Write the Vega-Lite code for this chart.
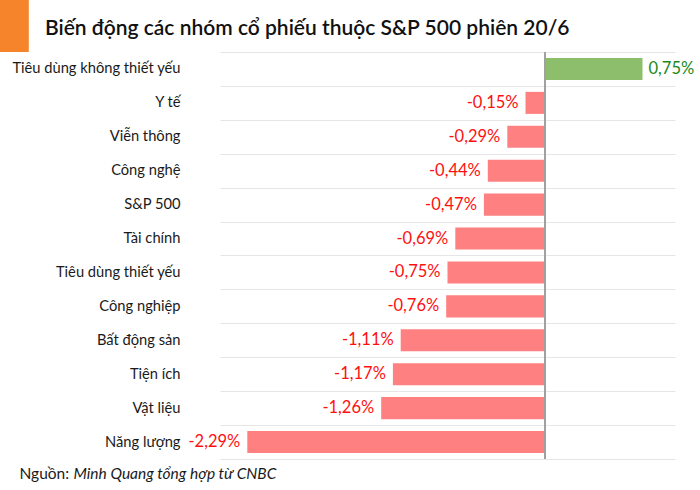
{
  "$schema": "https://vega.github.io/schema/vega-lite/v6.json",
  "width": 455,
  "height": 407,
  "autosize": "none",
  "padding": {"left": 220, "top": 52, "right": 25, "bottom": 31},
  "config": {
    "view": {"stroke": null},
    "font": "Lato",
    "locale": {"number": {"decimal": ",", "thousands": ".", "grouping": [3], "currency": ["", ""], "minus": "-"}}
  },
  "title": {
    "text": "Biến động các nhóm cổ phiếu thuộc S&P 500 phiên 20/6",
    "anchor": "start",
    "frame": "group",
    "dx": -175,
    "offset": -43,
    "font": "Lato",
    "fontSize": 21,
    "fontWeight": 600,
    "color": "#111111"
  },
  "data": {
    "values": [
      {"nhom": "Tiêu dùng không thiết yếu", "value": 0.0075},
      {"nhom": "Y tế", "value": -0.0015},
      {"nhom": "Viễn thông", "value": -0.0029},
      {"nhom": "Công nghệ", "value": -0.0044},
      {"nhom": "S&P 500", "value": -0.0047},
      {"nhom": "Tài chính", "value": -0.0069},
      {"nhom": "Tiêu dùng thiết yếu", "value": -0.0075},
      {"nhom": "Công nghiệp", "value": -0.0076},
      {"nhom": "Bất động sản", "value": -0.0111},
      {"nhom": "Tiện ích", "value": -0.0117},
      {"nhom": "Vật liệu", "value": -0.0126},
      {"nhom": "Năng lượng", "value": -0.0229}
    ]
  },
  "resolve": {"axis": {"x": "independent"}},
  "layer": [
    {
      "mark": {"type": "bar", "height": {"band": 0.65}},
      "encoding": {
        "y": {
          "field": "nhom", "type": "nominal", "sort": null,
          "scale": {"paddingInner": 0, "paddingOuter": 0},
          "axis": {
            "tickBand": "extent", "grid": true, "gridColor": "#e6e6e6", "gridWidth": 1,
            "domain": false, "ticks": false, "labelPadding": 40,
            "labelFont": "Lato", "labelFontSize": 14.7, "labelColor": "#1a1a1a",
            "title": "█", "titleAngle": 0, "titleColor": "#F5842A",
            "titleFont": "DejaVu Sans", "titleFontSize": 52, "titleFontWeight": "normal",
            "titleX": -232, "titleY": -55, "titleBaseline": "top", "titleAlign": "left"
          }
        },
        "x": {
          "field": "value", "type": "quantitative",
          "scale": {"domain": [-0.025, 0.01], "nice": false, "zero": false},
          "axis": {
            "orient": "bottom",
            "domain": false, "ticks": false, "labels": false, "grid": false,
            "title": "Nguồn:", "titleX": -201, "titleY": 19, "titleAlign": "left", "titleBaseline": "alphabetic",
            "titleFont": "Lato", "titleFontSize": 15.5, "titleFontWeight": "normal", "titleColor": "#1a1a1a"
          }
        },
        "color": {
          "condition": {"test": "datum.value > 0", "value": "#8CBE6C"},
          "value": "#FF8080"
        }
      }
    },
    {
      "mark": {"type": "rule", "color": "#a0a0a0", "strokeWidth": 1},
      "encoding": {
        "x": {"datum": 0, "type": "quantitative", "axis": null}
      }
    },
    {
      "transform": [{"filter": "datum.value < 0"}],
      "mark": {"type": "text", "align": "right", "dx": -7, "baseline": "middle", "font": "Lato", "fontSize": 16.5, "color": "#FF1010"},
      "encoding": {
        "y": {"field": "nhom", "type": "nominal", "sort": null},
        "x": {
          "field": "value", "type": "quantitative",
          "axis": {
            "orient": "bottom",
            "domain": false, "ticks": false, "labels": false, "grid": false,
            "title": "Minh Quang tổng hợp từ CNBC", "titleX": -147, "titleY": 19, "titleAlign": "left", "titleBaseline": "alphabetic",
            "titleFont": "Lato", "titleFontSize": 15.5, "titleFontWeight": "normal", "titleFontStyle": "italic", "titleColor": "#1a1a1a"
          }
        },
        "text": {"field": "value", "type": "quantitative", "format": ".2%"}
      }
    },
    {
      "transform": [{"filter": "datum.value >= 0"}],
      "mark": {"type": "text", "align": "left", "dx": 6, "baseline": "middle", "font": "Lato", "fontSize": 16.5, "color": "#1A8A1A"},
      "encoding": {
        "y": {"field": "nhom", "type": "nominal", "sort": null},
        "x": {"field": "value", "type": "quantitative", "axis": null},
        "text": {"field": "value", "type": "quantitative", "format": ".2%"}
      }
    }
  ]
}
